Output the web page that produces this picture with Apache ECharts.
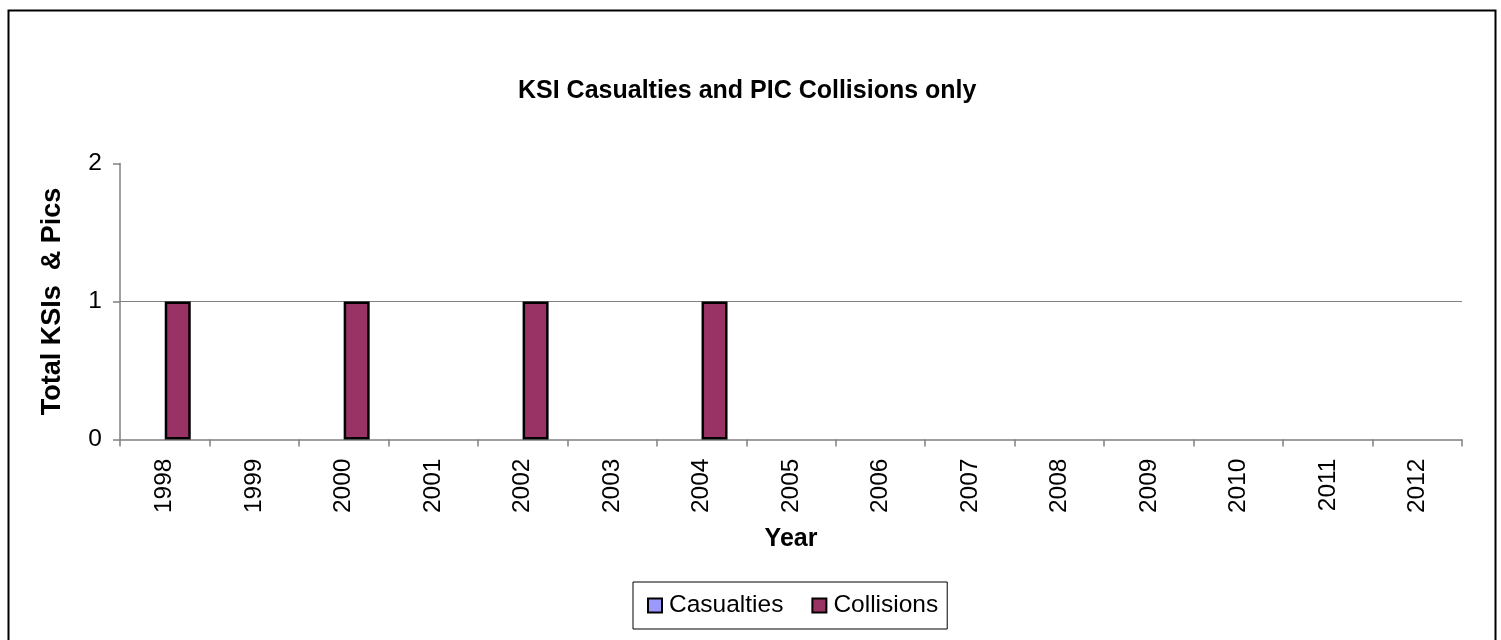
<!DOCTYPE html>
<html>
<head>
<meta charset="utf-8">
<script src="https://cdn.jsdelivr.net/npm/echarts@6/dist/echarts.min.js"></script>
<style>html,body{margin:0;padding:0;background:#fff}#c{width:1501px;height:640px}</style>
</head>
<body>
<div id="c"></div>
<script>
const years = ['1998','1999','2000','2001','2002','2003','2004','2005','2006','2007','2008','2009','2010','2011','2012'];
const casualties = [0,0,0,0,0,0,0,0,0,0,0,0,0,0,0];
const collisions = [1,0,1,0,1,0,1,0,0,0,0,0,0,0,0];
const yTicks = [0,1,2];

// zero-height bars get no outline (as in the reference)
const toItems = arr => arr.map(v => v === 0 ? {value: v, itemStyle: {borderWidth: 0}} : v);

const chart = echarts.init(document.getElementById('c'));
const F = 'Arial, "Liberation Sans", sans-serif';
chart.setOption({
  animation: false,
  backgroundColor: '#fff',
  title: {
    text: 'KSI Casualties and PIC Collisions only',
    left: 513, top: 74,
    textStyle: {fontFamily: F, fontSize: 25, fontWeight: 'bold', color: '#000'}
  },
  graphic: [{
    type: 'rect', left: 6, top: 8, silent: true,
    shape: {x: 0, y: 0, width: 1487, height: 660},
    style: {fill: 'none', stroke: '#000', lineWidth: 2}
  }],
  legend: {
    left: 633, top: 582,
    padding: [11, 9, 11, 14],
    borderColor: '#000', borderWidth: 1,
    itemWidth: 14, itemHeight: 14, itemGap: 28,
    icon: 'rect',
    textStyle: {fontFamily: F, fontSize: 24.5, color: '#000', padding: [0, 0, 0, 2]},
    itemStyle: {borderColor: '#000', borderWidth: 2},
    data: ['Casualties', 'Collisions']
  },
  grid: {left: 120, right: 39, top: 163.5, bottom: 200.5, containLabel: false},
  xAxis: {
    type: 'category', data: years,
    name: 'Year', nameLocation: 'middle', nameGap: 87,
    nameTextStyle: {fontFamily: F, fontSize: 25, fontWeight: 'bold', color: '#000'},
    axisLine: {lineStyle: {color: '#808080', width: 1.5}},
    axisTick: {show: true, length: 7, lineStyle: {color: '#808080', width: 1.5}},
    axisLabel: {rotate: 90, margin: 19, fontFamily: F, fontSize: 24.5, color: '#000', interval: 0},
    splitLine: {show: false}
  },
  yAxis: {
    type: 'value', min: 0, max: 2, interval: 1,
    name: 'Total KSIs  & Pics', nameLocation: 'middle', nameGap: 54,
    nameTextStyle: {fontFamily: F, fontSize: 27, fontWeight: 'bold', color: '#000'},
    axisLine: {show: true, lineStyle: {color: '#808080', width: 1.5}},
    axisTick: {show: true, length: 7, lineStyle: {color: '#808080', width: 1.5}},
    axisLabel: {margin: 18, fontFamily: F, fontSize: 24.5, color: '#000',
      formatter: v => yTicks.includes(v) ? String(v) : ''},
    splitLine: {show: true, lineStyle: {color: ['rgba(0,0,0,0)', '#808080', 'rgba(0,0,0,0)'], width: 1.2}}
  },
  series: [
    {name: 'Casualties', type: 'bar', data: toItems(casualties), barWidth: 26, barGap: '0%',
     itemStyle: {color: '#9999FF', borderColor: '#000', borderWidth: 2.5}},
    {name: 'Collisions', type: 'bar', data: toItems(collisions), barWidth: 26, barGap: '0%',
     itemStyle: {color: '#993366', borderColor: '#000', borderWidth: 2.5}}
  ]
});
</script>
</body>
</html>
